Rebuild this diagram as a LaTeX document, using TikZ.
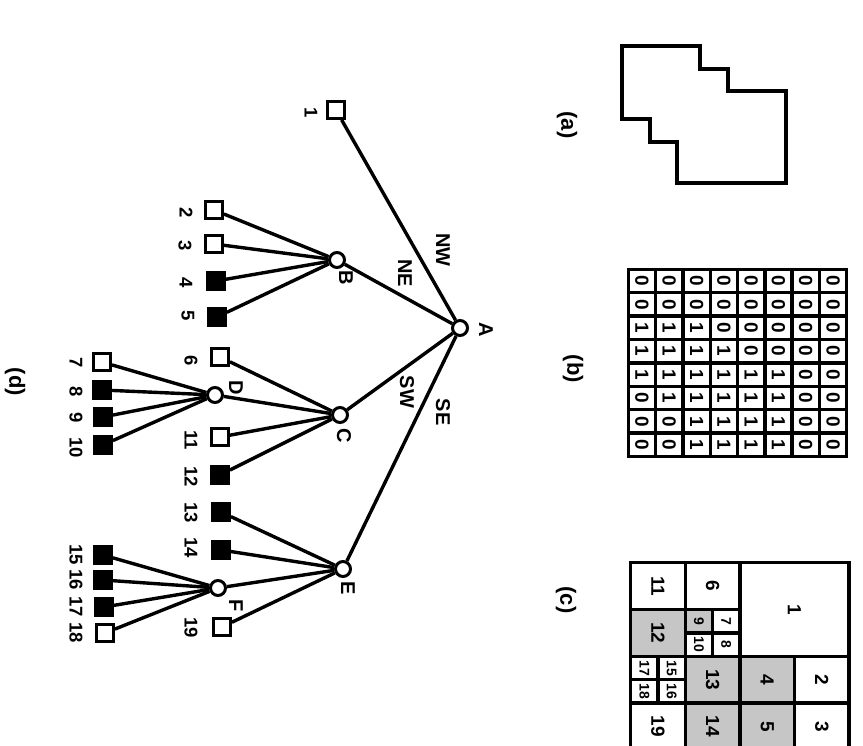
\documentclass[tikz,border=0pt]{standalone}
\usepackage{fontspec}
\setmainfont{Liberation Sans}
\usetikzlibrary{calc}
\begin{document}
\begin{tikzpicture}[x=1pt,y=-1pt,
  lbl/.style={rotate=-90,font=\fontsize{20}{20}\selectfont\bfseries,inner sep=0pt},
  nlbl/.style={rotate=-90,font=\fontsize{18.5}{18.5}\selectfont\bfseries,inner sep=0pt},
  plbl/.style={rotate=-90,font=\fontsize{22}{22}\selectfont\bfseries,inner sep=0pt},
  digit/.style={rotate=-90,font=\fontsize{19}{19}\selectfont\bfseries,inner sep=0pt},
  bigno/.style={rotate=-90,font=\fontsize{19}{19}\selectfont\bfseries,inner sep=0pt},
  smallno/.style={rotate=-90,font=\fontsize{14}{14}\selectfont\bfseries,inner sep=0pt},
  inode/.style={draw,circle,line width=3pt,minimum size=15pt,inner sep=0pt,fill=white},
  leafw/.style={draw,rectangle,line width=2.8pt,minimum size=17pt,inner sep=0pt,fill=white},
  leafb/.style={leafw,fill=black},
  edge/.style={line width=3.4pt},
  gline/.style={line width=3.4pt,line cap=rect},
  blk/.style={draw,line width=3.4pt,line join=miter}]
\useasboundingbox (0,0) rectangle (863,746);

% (a) region
\draw[line width=4pt,line join=miter] (622,46) -- (700,46) -- (700,69) -- (728,69) -- (728,91) -- (786,91) -- (786,183) -- (677,183) -- (677,142) -- (650,142) -- (650,119) -- (622,119) -- cycle;
\node[plbl] (la) at (567,125) {(a)};

% (b) binary array
\foreach \r/\row in {1/{0,0,0,0,0,0,0,0},2/{0,0,0,0,0,0,0,0},3/{1,1,1,0,0,0,0,0},4/{1,1,1,1,0,0,0,0},5/{1,1,1,1,1,1,0,0},6/{0,1,1,1,1,1,0,0},7/{0,0,1,1,1,1,0,0},8/{0,0,1,1,1,1,0,0}}{
  \foreach \d [count=\c] in \row {
    \node[digit] (b\r-\c) at ({628.3+27.3*(\c-0.5)},{269.3+23.4*(\r-0.5)}) {\d};
  }
}
\foreach \i in {0,...,8}{
  \draw[gline] ({628.3+27.3*\i},269.3) -- ({628.3+27.3*\i},456.5);
  \draw[gline] (628.3,{269.3+23.4*\i}) -- (846.7,{269.3+23.4*\i});
}
\node[plbl] (lb) at (573,369) {(b)};

% (c) block decomposition
\foreach \c/\r/\w/\h/\t/\f/\s in {
  4/0/4/4/1/white/bigno, 6/4/2/2/2/white/bigno, 6/6/2/2/3/white/bigno,
  4/4/2/2/4/gray!45/bigno, 4/6/2/2/5/gray!45/bigno, 2/0/2/2/6/white/bigno,
  0/0/2/2/11/white/bigno, 3/2/1/1/7/white/smallno, 3/3/1/1/8/white/smallno,
  2/2/1/1/9/gray!45/smallno, 2/3/1/1/10/white/smallno, 0/2/2/2/12/gray!45/bigno,
  2/4/2/2/13/gray!45/bigno, 2/6/2/2/14/gray!45/bigno, 1/4/1/1/15/white/smallno,
  1/5/1/1/16/white/smallno, 0/4/1/1/17/white/smallno, 0/5/1/1/18/white/smallno,
  0/6/2/2/19/white/bigno}{
  \draw[blk,fill=\f] ({630.7+27.3*\c},{562.7+23.4*\r}) rectangle ({630.7+27.3*(\c+\w)},{562.7+23.4*(\r+\h)});
  \node[\s] (c\t) at ({630.7+27.3*(\c+\w/2)},{562.7+23.4*(\r+\h/2)}) {\t};
}
\node[plbl] (lc) at (566,600) {(c)};

% (d) quadtree
\node[inode] (A) at (460,328) {};
\node[inode] (B) at (337,260) {};
\node[inode] (C) at (340,415) {};
\node[inode] (E) at (343,569) {};
\node[inode] (D) at (215,395) {};
\node[inode] (F) at (218,588) {};

\foreach \n/\x/\y/\s in {1/336/110/leafw, 2/214/210/leafw, 3/214/244/leafw, 4/216/281/leafb, 5/217/317/leafb,
  6/220/357/leafw, 7/102/362/leafw, 8/102/390/leafb, 9/103/417/leafb, 10/103/445/leafb,
  11/220/437/leafw, 12/220/475/leafb, 13/221/512/leafb, 14/221/550/leafb,
  15/103/555/leafb, 16/103/580/leafb, 17/104/607/leafb, 18/105/633/leafw, 19/222/627/leafw}{
  \node[\s] (n\n) at (\x,\y) {};
}
\foreach \n/\x/\y in {1/311/113, 2/186/213, 3/185/246, 4/186/283, 5/188/316, 6/191/361,
  7/76/363, 8/76/392, 9/76/418, 10/76/448, 11/191/440, 12/191/477, 13/191/513, 14/191/548,
  15/76/555, 16/76/580, 17/76/607, 18/76/633, 19/191/628}{
  \node[nlbl] (t\n) at (\x,\y) {\n};
}

\draw[edge] (A) -- (n1);
\draw[edge] (A) -- (B);
\draw[edge] (A) -- (C);
\draw[edge] (A) -- (E);
\foreach \k in {2,3,4,5}{\draw[edge] (B) -- (n\k);}
\foreach \k in {n6,D,n11,n12}{\draw[edge] (C) -- (\k);}
\foreach \k in {7,8,9,10}{\draw[edge] (D) -- (n\k);}
\foreach \k in {n13,n14,F,n19}{\draw[edge] (E) -- (\k);}
\foreach \k in {15,16,17,18}{\draw[edge] (F) -- (n\k);}

\node[lbl] (tA) at (486,330) {A};
\node[lbl] (tB) at (346,278) {B};
\node[lbl] (tC) at (344,436) {C};
\node[lbl] (tD) at (236,388) {D};
\node[lbl] (tE) at (348,588) {E};
\node[lbl] (tF) at (236,606) {F};

\node[lbl] (tNW) at (443,250) {NW};
\node[lbl] (tNE) at (405,273) {NE};
\node[lbl] (tSW) at (407,392) {SW};
\node[lbl] (tSE) at (443,412) {SE};

\node[plbl] (ld) at (15,382) {(d)};
\end{tikzpicture}
\end{document}
